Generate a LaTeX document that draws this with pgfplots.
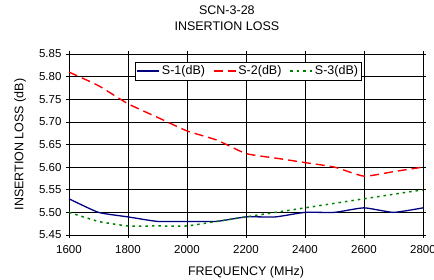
\documentclass[border=0pt]{standalone}
\usepackage{pgfplots}
\pgfplotsset{compat=1.18}
\usepackage{fontspec}
\setmainfont{Liberation Sans}
\newcommand{\bigf}{\fontsize{12.5}{16}\selectfont}
\newcommand{\tickf}{\fontsize{11.5}{13}\selectfont}
\begin{document}
\begin{tikzpicture}
\path[use as bounding box] (-69pt,-45pt) rectangle (365pt,235pt);
\begin{axis}[
  at={(0pt,0pt)}, anchor=south west,
  scale only axis, width=354pt, height=181pt,
  xmin=1600, xmax=2800, ymin=5.45, ymax=5.85,
  xtick={1600,1800,...,2800},
  ytick={5.45,5.50,...,5.85},
  grid=major, major grid style={black, line width=0.6pt},
  axis line style={black, line width=0.6pt},
  tick align=outside, major tick length=3pt, tick style={black, line width=0.6pt},
  /pgf/number format/assume math mode=true,
  xticklabel style={/pgf/number format/1000 sep={}, font=\tickf, yshift=-4pt},
  yticklabel style={/pgf/number format/.cd, fixed, fixed zerofill, precision=2, /tikz/.cd, font=\tickf, xshift=-1pt},
  xlabel={FREQUENCY (MHz)},
  ylabel={INSERTION LOSS (dB)},
  xlabel style={font=\bigf, at={(axis description cs:0.5,-0.204)}, anchor=center},
  ylabel style={font=\bigf, at={(axis description cs:-0.138,0.5)}, anchor=center},
  title={SCN-3-28\\INSERTION LOSS},
  title style={align=center, font=\bigf, at={(axis description cs:0.446,1.166)}, anchor=center},
  legend columns=3,
  legend style={at={(axis description cs:0.186,0.956)}, anchor=north west, draw=black, line width=0.6pt, font=\bigf, inner sep=1.5pt, /tikz/every even column/.append style={column sep=6pt}},
  legend image code/.code={\draw[#1] (0cm,0cm) -- (22pt,0cm);},
]
\addplot[color={rgb,255:red,0;green,0;blue,128}, line width=1.3pt, smooth, tension=0.3] coordinates {
(1600,5.53) (1700,5.50) (1800,5.49) (1900,5.48) (2000,5.48) (2100,5.48) (2200,5.49) (2300,5.49) (2400,5.50) (2500,5.50) (2600,5.51) (2700,5.50) (2800,5.51)};
\addlegendentry{S-1(dB)}
\addplot[color=red, line width=1.4pt, dash pattern=on 9pt off 5pt, smooth, tension=0.3] coordinates {
(1600,5.81) (1700,5.78) (1800,5.74) (1900,5.71) (2000,5.68) (2100,5.66) (2200,5.63) (2300,5.62) (2400,5.61) (2500,5.60) (2600,5.58) (2700,5.59) (2800,5.60)};
\addlegendentry{S-2(dB)}
\addplot[color={rgb,255:red,0;green,128;blue,0}, line width=1.5pt, dash pattern=on 2.5pt off 4pt, smooth, tension=0.3] coordinates {
(1600,5.50) (1700,5.48) (1800,5.47) (1900,5.47) (2000,5.47) (2100,5.48) (2200,5.49) (2300,5.50) (2400,5.51) (2500,5.52) (2600,5.53) (2700,5.54) (2800,5.55)};
\addlegendentry{S-3(dB)}
\end{axis}
\end{tikzpicture}
\end{document}
